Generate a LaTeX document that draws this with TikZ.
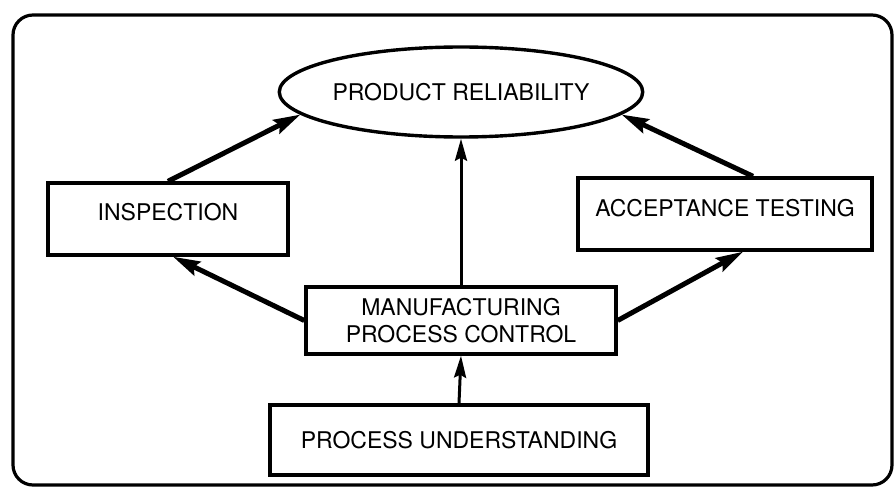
\documentclass[tikz,border=0pt]{standalone}
\usepackage{fontspec}
\setmainfont{TeX Gyre Heros}
\usetikzlibrary{shapes.geometric,arrows.meta}
\begin{document}
\begin{tikzpicture}[x=1pt,y=-1pt,
  box/.style={draw, line width=3.4pt, inner sep=0pt, font=\fontsize{23}{27}\selectfont, align=center},
  thinarrow/.style={line width=3pt, -{Stealth[length=22pt,width=12pt,inset=3pt]}},
  thickarrow/.style={line width=5pt, -{Stealth[length=27pt,width=15pt,inset=4pt]}},
]
\useasboundingbox (0,0) rectangle (895,487);
\draw[line width=3.2pt, rounded corners=20pt] (13,15) rectangle (892,485);
\node[box, ellipse, minimum width=342pt, minimum height=90pt] (prod) at (461,92) {PRODUCT RELIABILITY};
\node[box, minimum width=240pt, minimum height=72pt, text height=16pt, text depth=14pt] (insp) at (168,219) {INSPECTION};
\node[box, minimum width=294pt, minimum height=72pt, text height=16pt, text depth=12pt] (acc) at (725,214) {ACCEPTANCE TESTING};
\node[box, minimum width=310pt, minimum height=67pt] (manuf) at (461,320.5) {MANUFACTURING\\PROCESS CONTROL};
\node[box, minimum width=378pt, minimum height=70pt] (und) at (459,440) {PROCESS UNDERSTANDING};
\draw[thickarrow] (insp.north) -- (prod.188);
\draw[thickarrow] ([xshift=28pt]acc.north) -- (prod.-8);
\draw[thinarrow] (manuf.north) -- (prod.south);
\draw[thickarrow] (manuf.west) -- ([xshift=5pt]insp.south);
\draw[thickarrow] (manuf.east) -- ([xshift=18pt]acc.south);
\draw[thinarrow] (und.north) -- (manuf.south);
\end{tikzpicture}
\end{document}
